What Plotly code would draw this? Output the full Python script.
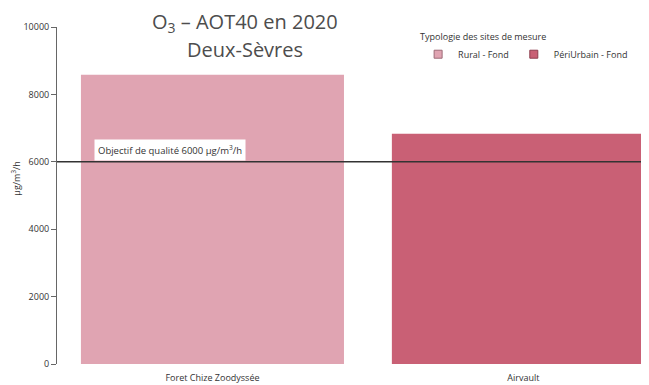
import plotly.graph_objects as go

SITES = ["Foret Chize Zoodyssée", "Airvault"]
TYPOLOGIES = ["Rural - Fond", "PériUrbain - Fond"]
AOT40 = [8580, 6830]
COLORS = ["#E0A4B2", "#C96075"]
BORDERS = ["#9E6B77", "#8E3E4E"]
OBJECTIF = 6000
Y_TICKS = [0, 2000, 4000, 6000, 8000, 10000]

FONT = "Open Sans, Segoe UI, sans-serif"
TXT = "#333333"

# the page body keeps its default 8px margin, so the figure is sized to what is visible
W, H = 641, 377

fig = go.Figure()
for site, typo, val, col in zip(SITES, TYPOLOGIES, AOT40, COLORS):
    fig.add_trace(
        go.Bar(
            x=[site],
            y=[val],
            name=typo,
            marker=dict(color=col, line=dict(width=0)),
            showlegend=False,
            hovertemplate="%{x}: %{y}<extra></extra>",
        )
    )
# small square legend keys
for typo, col, border in zip(TYPOLOGIES, COLORS, BORDERS):
    fig.add_trace(
        go.Scatter(
            x=[None], y=[None], mode="markers", name=typo,
            marker=dict(symbol="square", size=8, color=col, line=dict(color=border, width=1)),
        )
    )

fig.add_shape(
    type="line", xref="paper", x0=0, x1=1, yref="y", y0=OBJECTIF, y1=OBJECTIF,
    line=dict(color="#333333", width=1.5),
)
fig.add_annotation(
    xref="paper", x=0.0625, yref="y", y=OBJECTIF, yshift=12,
    xanchor="left", yanchor="middle", showarrow=False,
    text="Objectif de qualité 6000 µg/m<sup>3</sup>/h",
    font=dict(size=9.5, color=TXT, family=FONT),
    bgcolor="white", borderpad=3,
)
# title lines as free text inside the plot area
TITLE_FONT = dict(size=20, color="#4d4d4d", family=FONT)
fig.add_annotation(
    xref="paper", x=0.318, xanchor="center",
    yref="paper", y=1 + 5 / 337, yanchor="middle",
    showarrow=False, text="O<sub>3</sub> – AOT40 en 2020", font=TITLE_FONT,
)
fig.add_annotation(
    xref="paper", x=0.318, xanchor="center",
    yref="paper", y=1 - 22 / 337, yanchor="middle",
    showarrow=False, text="Deux-Sèvres", font=TITLE_FONT,
)
# y axis title
fig.add_annotation(
    xref="paper", x=-41 / 592, xanchor="center",
    yref="paper", y=0.55, yanchor="middle",
    showarrow=False, textangle=-90,
    text="µg/m<sup>3</sup>/h", font=dict(size=9, color=TXT, family=FONT),
)

fig.update_layout(
    width=W,
    height=H,
    margin=dict(l=49, r=0, t=19, b=21, autoexpand=False),
    paper_bgcolor="white",
    plot_bgcolor="white",
    font=dict(family=FONT, size=9, color=TXT),
    barmode="overlay",
    bargap=0.154,
    legend=dict(
        title=dict(text="Typologie des sites de mesure", font=dict(size=9), side="top"),
        orientation="h",
        x=0.61, xanchor="left",
        y=0.997, yanchor="top",
        font=dict(size=9, color=TXT),
        itemwidth=30,
        bgcolor="rgba(0,0,0,0)",
        itemclick=False,
    ),
    showlegend=True,
)
fig.update_xaxes(
    range=[-0.5, 1.404],
    showline=False,
    showgrid=False,
    ticks="",
    ticklabelstandoff=7,
    tickfont=dict(size=9, color=TXT),
)
fig.update_yaxes(
    range=[0, 10000],
    tickvals=Y_TICKS,
    tickformat="d",
    showgrid=False,
    zeroline=False,
    showline=True,
    linecolor="#666666",
    linewidth=1,
    ticks="outside",
    ticklen=5,
    tickcolor="#666666",
    tickfont=dict(size=9, color=TXT),
)

fig.write_html("out.html")
